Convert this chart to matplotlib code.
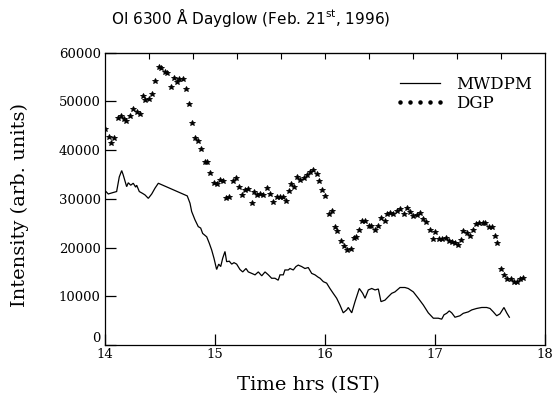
import matplotlib
matplotlib.use("Agg")
import matplotlib.pyplot as plt
from matplotlib.lines import Line2D

# MWDPM (solid line)
mw_time = [14.000, 14.030, 14.075, 14.106, 14.130, 14.152, 14.166, 14.197, 14.212, 14.234,
           14.257, 14.279, 14.288, 14.312, 14.343, 14.364, 14.394, 14.425, 14.455, 14.485,
           14.748, 14.773, 14.788, 14.818, 14.848, 14.870, 14.888, 14.925, 14.948, 14.970,
           14.991, 15.015, 15.034, 15.052, 15.070, 15.091, 15.106, 15.130, 15.152, 15.173,
           15.197, 15.227, 15.252, 15.282, 15.303, 15.334, 15.364, 15.394, 15.425, 15.455,
           15.485, 15.515, 15.545, 15.575, 15.591, 15.621, 15.636, 15.666, 15.682, 15.712,
           15.736, 15.757, 15.788, 15.818, 15.848, 15.879, 15.909, 15.939, 15.955, 15.985,
           16.015, 16.045, 16.075, 16.106, 16.136, 16.166, 16.197, 16.212, 16.243, 16.273,
           16.312, 16.343, 16.364, 16.394, 16.425, 16.455, 16.485, 16.509, 16.545, 16.575,
           16.606, 16.636, 16.682, 16.727, 16.757, 16.803, 16.848, 16.894, 16.939, 16.985,
           17.030, 17.061, 17.082, 17.106, 17.130, 17.152, 17.182, 17.227, 17.257, 17.303,
           17.334, 17.379, 17.425, 17.470, 17.500, 17.530, 17.561, 17.591, 17.627, 17.652,
           17.676]
mw_value = [31700, 31000, 31300, 31500, 34500, 35800, 34900, 32500, 33300, 32800,
            33200, 32400, 32800, 31500, 31100, 30800, 30100, 31000, 32200, 33200,
            30600, 29100, 27400, 25700, 24300, 24000, 22900, 22200, 20900, 19500,
            17800, 15500, 16600, 16100, 17800, 19200, 17100, 17200, 16600, 16900,
            16600, 15500, 15000, 15700, 15000, 14700, 14400, 15000, 14200, 15000,
            14400, 13700, 13700, 13300, 14400, 14400, 15400, 15400, 15700, 15400,
            16100, 16400, 16100, 15700, 15900, 14700, 14400, 13900, 13700, 13000,
            12700, 11600, 10600, 9600, 8200, 6600, 7200, 7700, 6600, 8900,
            11600, 10600, 9600, 11300, 11600, 11300, 11500, 8900, 9200, 9900,
            10600, 10900, 11800, 11800, 11600, 10900, 9600, 8200, 6600, 5500,
            5500, 5300, 6200, 6500, 7000, 6600, 5700, 6000, 6500, 6800,
            7200, 7500, 7700, 7700, 7500, 6800, 6000, 6400, 7700, 6600,
            5700]

# DGP (star markers)
dgp_time = [14.000, 14.036, 14.052, 14.082, 14.118, 14.148, 14.173, 14.191, 14.227, 14.257,
            14.288, 14.318, 14.343, 14.366, 14.397, 14.427, 14.457, 14.488, 14.512, 14.543,
            14.566, 14.597, 14.627, 14.652, 14.675, 14.706, 14.736, 14.766, 14.788, 14.821,
            14.845, 14.875, 14.906, 14.930, 14.957, 14.991, 15.015, 15.045, 15.075, 15.100,
            15.130, 15.161, 15.191, 15.221, 15.243, 15.273, 15.303, 15.334, 15.355, 15.379,
            15.409, 15.439, 15.470, 15.500, 15.530, 15.561, 15.591, 15.615, 15.645, 15.670,
            15.694, 15.718, 15.748, 15.773, 15.809, 15.834, 15.864, 15.895, 15.923, 15.948,
            15.973, 16.003, 16.034, 16.064, 16.088, 16.112, 16.143, 16.173, 16.203, 16.234,
            16.264, 16.282, 16.312, 16.336, 16.366, 16.397, 16.421, 16.452, 16.482, 16.512,
            16.543, 16.561, 16.591, 16.621, 16.652, 16.682, 16.718, 16.743, 16.773, 16.803,
            16.834, 16.864, 16.888, 16.918, 16.955, 16.979, 17.003, 17.034, 17.064, 17.100,
            17.125, 17.155, 17.185, 17.209, 17.239, 17.257, 17.288, 17.318, 17.343, 17.373,
            17.403, 17.434, 17.457, 17.488, 17.515, 17.548, 17.566, 17.597, 17.627, 17.657,
            17.688, 17.718, 17.742, 17.773, 17.797]
dgp_value = [44300, 42600, 41500, 42400, 46500, 47000, 46300, 46000, 47100, 48500,
             47800, 47400, 51100, 50300, 50500, 51500, 54200, 57100, 56800, 56100,
             55800, 52900, 54900, 53900, 54700, 54500, 52500, 49500, 45600, 42400,
             41900, 40200, 37600, 37600, 35400, 33200, 33100, 33900, 33600, 30100,
             30400, 33700, 34300, 32500, 30800, 31800, 32000, 29100, 31500, 30800,
             31000, 30800, 32200, 31000, 29300, 30300, 30400, 30400, 29600, 31700,
             33000, 32500, 34400, 33900, 34300, 34900, 35600, 36000, 35000, 33600,
             31800, 30600, 26800, 27500, 24300, 23500, 21400, 20300, 19500, 19800,
             21900, 22200, 23600, 25500, 25500, 24500, 24400, 23700, 24500, 26000,
             25500, 26800, 27000, 26800, 27500, 27900, 26800, 28200, 27200, 26500,
             26700, 27000, 25800, 25300, 23700, 21700, 23100, 21700, 21700, 21900,
             21400, 21200, 20900, 20500, 21600, 23400, 22900, 22400, 23600, 24800,
             25100, 25100, 25000, 24300, 24200, 22400, 20900, 15500, 14400, 13600,
             13500, 13000, 13000, 13500, 13700]

x_ticks = [14, 15, 16, 17, 18]
y_ticks = [0, 10000, 20000, 30000, 40000, 50000, 60000]

serif = "DejaVu Serif"

fig = plt.figure(figsize=(5.56, 3.97), dpi=100)
ax = fig.add_axes([0.1888, 0.131, 0.7914, 0.7363])

ax.plot(mw_time, mw_value, color="black", lw=0.9, solid_joinstyle="miter")
ax.plot(dgp_time, dgp_value, linestyle="none", marker="*", color="black",
        markersize=4.2, markeredgewidth=0.6)

ax.set_xlim(14, 18)
ax.set_ylim(0, 60000)
ax.set_xticks(x_ticks)
ax.set_xticklabels([str(t) for t in x_ticks], fontfamily=serif, fontsize=9.5)
ax.set_yticks(y_ticks)
ax.set_yticklabels([str(v) for v in y_ticks], fontfamily=serif, fontsize=9.5)
ax.tick_params(axis="both", direction="in", length=8, width=0.9, pad=3)
ax.tick_params(axis="x", pad=2)
ax.get_yticklabels()[0].set_verticalalignment("bottom")

# top-axis small ticks (10 divisions)
top = ax.secondary_xaxis("top")
top.set_xticks([14 + 0.4 * i for i in range(1, 10)])
top.set_xticklabels([])
top.tick_params(direction="in", length=4, width=0.8)

for s in ax.spines.values():
    s.set_linewidth(0.9)

fig.text(0.554, 0.030, "Time hrs (IST)", family=serif, fontsize=14,
         ha="center", va="center")
fig.text(0.036, 0.484, "Intensity (arb. units)", family=serif, fontsize=14,
         ha="center", va="center", rotation=90)

fig.text(0.45, 0.957, r"OI 6300 Å Dayglow (Feb. 21$^{\mathrm{st}}$, 1996)",
         family="DejaVu Sans", fontsize=11, ha="center", va="center")

handles = [Line2D([0], [0], color="black", lw=0.9),
           Line2D([0], [0], linestyle="none", marker="o", color="black", markersize=2.2)]
leg = ax.legend(handles, ["MWDPM", "DGP"], loc="upper left",
                bbox_to_anchor=(0.658, 0.92), frameon=False, numpoints=5,
                handlelength=3.0, handletextpad=0.7, labelspacing=0.1,
                prop={"family": serif, "size": 12}, borderaxespad=0, borderpad=0)

fig.savefig("out.png", dpi=100)
